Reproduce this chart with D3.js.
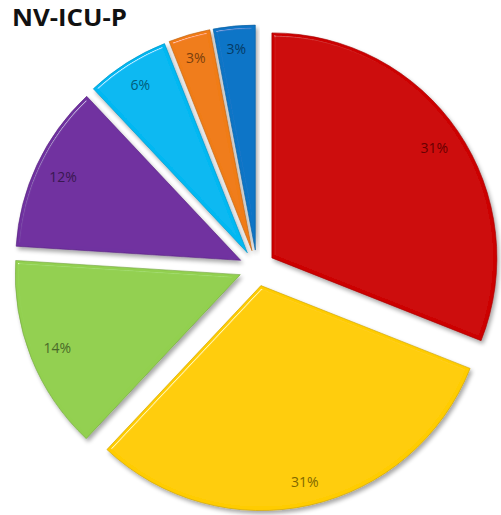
<!DOCTYPE html>
<html>
<head>
<meta charset="utf-8">
<script src="https://cdn.jsdelivr.net/npm/d3@7"></script>
<style>
  html, body { margin: 0; padding: 0; background: #fff; }
  svg { display: block; }
</style>
</head>
<body>
<svg id="chart" width="501" height="515"></svg>
<script>
// Share of each category, clockwise from 12 o'clock
const categories = ["A", "B", "C", "D", "E", "F", "G"];
const values = [31, 31, 14, 12, 6, 3, 3];
const labels = ["31%", "31%", "14%", "12%", "6%", "3%", "3%"];
const colors = ["#cc0000", "#ffcc00", "#92d050", "#7030a0", "#00b8f2", "#f07c18", "#0a74c6"];
const title = "NV-ICU-P";

const svg = d3.select("#chart");
const cx = 257, cy = 268;      // pie centre
const radius = 225;
const explode = 18;            // every slice pushed out from the centre

const defs = svg.append("defs");

// Soft bevel on the rims + drop shadow applied to each slice
const f = defs.append("filter").attr("id", "bevel")
  .attr("x", "-10%").attr("y", "-10%").attr("width", "120%").attr("height", "120%");
f.append("feGaussianBlur").attr("in", "SourceAlpha").attr("stdDeviation", 1.5).attr("result", "blur");
const spec = f.append("feSpecularLighting").attr("in", "blur")
  .attr("surfaceScale", 3.5).attr("specularConstant", 0.8).attr("specularExponent", 110)
  .attr("lighting-color", "#ffffff").attr("result", "spec");
spec.append("feDistantLight").attr("azimuth", 235).attr("elevation", 55);
f.append("feComposite").attr("in", "spec").attr("in2", "SourceAlpha").attr("operator", "in").attr("result", "specIn");
f.append("feComposite").attr("in", "SourceGraphic").attr("in2", "specIn")
  .attr("operator", "arithmetic").attr("k1", 0).attr("k2", 1).attr("k3", 0.6).attr("k4", 0).attr("result", "lit");
f.append("feGaussianBlur").attr("in", "SourceAlpha").attr("stdDeviation", 2).attr("result", "sblur");
f.append("feOffset").attr("in", "sblur").attr("dx", 2).attr("dy", 2.5).attr("result", "soff");
f.append("feComponentTransfer").attr("in", "soff").attr("result", "shadow")
  .append("feFuncA").attr("type", "linear").attr("slope", 0.35);
const merge = f.append("feMerge");
merge.append("feMergeNode").attr("in", "shadow");
merge.append("feMergeNode").attr("in", "lit");

const pie = d3.pie().sort(null).value(d => d)(values);
const arc = d3.arc().innerRadius(0).outerRadius(radius);

const g = svg.append("g").attr("transform", `translate(${cx},${cy})`);

const slices = g.selectAll("g.slice").data(pie).enter().append("g")
  .attr("class", "slice")
  .attr("transform", d => {
    const a = (d.startAngle + d.endAngle) / 2;
    return `translate(${explode * Math.sin(a)},${-explode * Math.cos(a)})`;
  });

slices.append("path")
  .attr("d", arc)
  .attr("fill", (d, i) => colors[i])
  .attr("stroke", (d, i) => d3.color(colors[i]).darker(0.7))
  .attr("stroke-width", 0.6)
  .attr("filter", "url(#bevel)");

// Labels sit just inside the outer edge of each slice
const labelEdge = 213;
slices.append("text")
  .text((d, i) => labels[i])
  .attr("font-family", "'Open Sans', sans-serif")
  .attr("font-size", 14)
  .attr("fill", (d, i) => d3.color(colors[i]).darker(1.9))
  .attr("text-anchor", "middle")
  .attr("dominant-baseline", "central")
  .each(function (d) {
    const a = (d.startAngle + d.endAngle) / 2;
    const ux = Math.sin(a), uy = -Math.cos(a);
    const bb = this.getBBox();
    const reach = (bb.width / 2) * Math.abs(ux) + (bb.height / 2) * Math.abs(uy);
    const r = labelEdge - reach;
    d3.select(this).attr("x", r * ux).attr("y", r * uy);
  });

svg.append("text")
  .attr("x", 12).attr("y", 26)
  .attr("font-family", "'Open Sans', sans-serif")
  .attr("font-weight", 700)
  .attr("font-size", 22.5)
  .attr("textLength", 115)
  .attr("lengthAdjust", "spacingAndGlyphs")
  .attr("fill", "#111")
  .text(title);
</script>
</body>
</html>
